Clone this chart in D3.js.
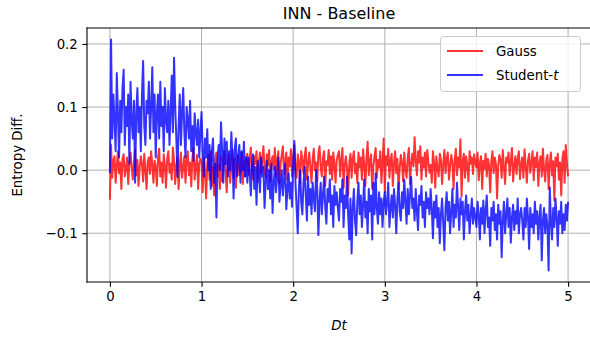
<!DOCTYPE html>
<html>
<head>
<meta charset="utf-8">
<script src="https://cdn.jsdelivr.net/npm/d3@7"></script>
<style>
  body { margin: 0; background: white; }
  svg { display: block; font-family: "DejaVu Sans", sans-serif; }
</style>
</head>
<body>
<div id="container"></div>
<script>
// time axis: 0 .. 5 in steps of 0.0125 (401 samples)
const tStep = 0.0125;

const gauss = [
    -0.047, 0.04, -0.012, 0.015, 0.022, -0.02, 0.008, 0.03, -0.005, 0.012, -0.03, 0.018, 0.025, -0.01, 0.002, 0.02, -0.022, 0.01, 0.028, 0.005,
    -0.015, 0.012, 0.032, -0.008, 0.016, -0.025, 0.004, 0.022, 0.01, -0.018, 0.026, 0.0, -0.03, 0.014, 0.02, -0.006, 0.03, 0.008, -0.02, 0.015,
    0.005, -0.025, 0.02, 0.034, -0.01, 0.012, -0.02, 0.025, 0.006, -0.028, 0.018, 0.03, -0.004, 0.01, -0.015, 0.036, 0.015, -0.022, 0.008, 0.02,
    -0.03, 0.01, 0.028, -0.012, 0.004, 0.022, -0.02, 0.016, 0.03, -0.008, 0.012, -0.026, 0.02, 0.035, -0.015, 0.006, 0.024, -0.03, 0.01, 0.018,
    0.012, -0.035, 0.02, 0.0, -0.045, 0.01, 0.025, -0.015, 0.03, -0.025, 0.005, -0.04, 0.018, 0.028, -0.01, 0.008, -0.03, 0.022, -0.018, 0.012,
    0.03, -0.005, -0.035, 0.015, 0.025, -0.02, 0.006, 0.032, -0.012, 0.018, -0.028, 0.01, 0.024, -0.008, 0.002, 0.028, -0.022, 0.014, -0.01, 0.02,
    0.026, -0.008, 0.015, 0.036, 0.004, -0.015, 0.022, 0.01, 0.03, -0.02, 0.012, 0.028, -0.005, 0.018, 0.038, 0.0, -0.012, 0.025, 0.008, 0.032,
    -0.018, 0.014, 0.022, 0.002, 0.035, -0.01, 0.016, 0.03, -0.022, 0.01, 0.024, 0.038, -0.006, 0.012, 0.028, -0.015, 0.02, 0.006, 0.033, -0.01,
    0.018, 0.04, 0.002, -0.012, 0.025, 0.012, -0.022, 0.03, 0.016, -0.005, 0.022, 0.036, -0.015, 0.01, 0.028, 0.004, -0.02, 0.018, 0.034, 0.0,
    0.012, -0.018, 0.026, 0.038, 0.006, -0.01, 0.02, 0.03, -0.025, 0.014, 0.008, 0.032, -0.006, 0.022, -0.015, 0.028, 0.01, -0.02, 0.016, 0.024,
    0.03, -0.01, 0.015, 0.035, -0.028, 0.008, 0.022, 0.002, -0.04, 0.012, 0.026, -0.012, 0.018, 0.03, -0.005, 0.01, -0.02, 0.028, 0.004, 0.02,
    -0.015, 0.033, 0.01, -0.025, 0.018, 0.045, -0.008, 0.015, 0.025, -0.03, 0.006, 0.022, 0.035, -0.012, 0.016, 0.004, 0.03, -0.02, 0.012, 0.05,
    -0.035, 0.022, 0.008, 0.034, -0.012, 0.016, 0.026, -0.025, 0.01, 0.03, -0.005, 0.018, -0.03, 0.004, 0.024, 0.012, -0.018, 0.028, 0.0, -0.012,
    0.02, 0.035, -0.022, 0.01, 0.026, 0.006, 0.052, 0.015, -0.008, 0.03, 0.012, 0.038, -0.015, 0.02, 0.004, 0.028, -0.01, 0.032, 0.014, -0.004,
    0.008, -0.02, 0.03, 0.012, -0.028, 0.022, 0.002, -0.01, 0.026, 0.015, -0.022, 0.01, 0.032, -0.005, 0.018, 0.028, -0.015, 0.006, 0.024, 0.012,
    -0.03, 0.016, 0.034, -0.008, 0.02, 0.004, 0.049, -0.042, 0.014, 0.026, -0.012, 0.022, 0.008, -0.018, 0.03, 0.01, 0.02, -0.006, 0.025, 0.012,
    0.004, 0.028, -0.016, 0.012, 0.022, -0.03, 0.015, 0.002, 0.026, -0.01, 0.018, 0.008, -0.035, 0.014, 0.03, -0.005, 0.02, 0.01, -0.045, 0.006,
    0.024, 0.016, -0.012, 0.032, 0.004, -0.022, 0.02, 0.012, 0.028, -0.008, 0.015, 0.035, -0.018, 0.008, 0.022, -0.006, 0.018, 0.03, -0.014, 0.01,
    0.02, -0.012, 0.033, 0.006, -0.02, 0.015, 0.026, -0.004, 0.012, 0.03, -0.016, 0.02, 0.005, 0.028, -0.025, 0.012, 0.022, -0.01, 0.034, 0.002,
    -0.018, 0.016, 0.024, -0.03, 0.01, 0.028, -0.008, 0.014, -0.048, 0.02, 0.006, 0.026, -0.015, 0.012, -0.04, 0.018, 0.03, -0.02, 0.04, 0.01, -0.01
];

const studentT = [
    -0.005, 0.207, 0.05, 0.12, 0.08, 0.03, 0.154, 0.09, 0.02, 0.11, 0.06, 0.13, 0.159, 0.04, 0.1, 0.07, 0.12, 0.01, 0.14, 0.08,
    0.05, 0.11, -0.02, 0.09, 0.13, 0.06, 0.1, 0.03, 0.12, 0.173, 0.07, 0.04, 0.11, 0.09, 0.14, 0.05, 0.1, 0.163, 0.06, 0.12,
    0.02, 0.09, 0.12, 0.05, 0.14, 0.07, 0.1, 0.03, 0.13, 0.08, 0.06, 0.11, 0.04, 0.09, 0.15, 0.06, 0.178, 0.1, 0.05, -0.011,
    0.07, 0.12, 0.04, 0.09, 0.13, 0.06, 0.02, 0.1, 0.08, 0.05, 0.11, 0.03, 0.07, 0.015, 0.09, 0.06, 0.04, 0.08, 0.02, 0.06,
    0.092, 0.03, -0.01, 0.05, 0.02, 0.065, 0.0, 0.04, -0.03, 0.03, 0.05, -0.02, 0.01, -0.075, 0.02, 0.04, 0.0, 0.076, 0.03, -0.02,
    0.05, 0.01, 0.045, -0.01, 0.03, 0.0, 0.06, 0.02, -0.045, 0.035, 0.05, -0.01, 0.02, 0.04, -0.02, 0.03, 0.0, 0.045, -0.01, 0.02,
    -0.02, 0.02, 0.0, -0.04, 0.01, 0.025, -0.03, 0.005, -0.055, 0.015, 0.0, -0.035, 0.02, -0.01, 0.005, -0.06, -0.02, 0.015, -0.03, 0.0,
    -0.045, 0.01, -0.068, -0.02, 0.005, -0.035, -0.01, 0.02, -0.05, -0.025, 0.0, -0.04, -0.015, 0.01, -0.062, -0.03, -0.005, -0.045, -0.02, -0.058,
    0.01, 0.046, -0.02, -0.06, -0.1, -0.03, 0.0, -0.05, -0.07, -0.02, 0.005, -0.04, -0.08, -0.01, -0.055, -0.03, -0.07, -0.02, -0.045, -0.065,
    0.0, -0.03, -0.103, -0.05, -0.02, -0.07, -0.04, -0.01, -0.06, -0.085, -0.03, -0.05, -0.015, -0.07, -0.04, -0.09, -0.025, -0.055, -0.035, -0.06,
    -0.08, -0.03, -0.05, -0.015, -0.09, -0.04, -0.06, -0.01, -0.07, -0.11, -0.045, -0.132, -0.06, -0.03, -0.08, -0.103, -0.05, -0.02, -0.07, -0.04,
    -0.09, -0.055, -0.015, -0.075, -0.05, -0.1, -0.03, -0.065, -0.04, -0.11, -0.02, -0.07, -0.005, -0.06, -0.085, -0.035, -0.07, -0.045, -0.09, -0.05,
    -0.035, -0.07, -0.05, -0.02, -0.09, -0.06, -0.04, -0.075, -0.03, -0.055, -0.1, -0.045, -0.02, -0.065, -0.08, -0.035, -0.06, -0.015, -0.05, -0.085,
    -0.03, -0.07, -0.04, -0.011, -0.06, -0.045, -0.08, -0.03, -0.065, -0.095, -0.04, -0.055, -0.025, -0.075, -0.05, -0.09, -0.035, -0.06, -0.045, -0.07,
    -0.03, -0.06, -0.108, -0.05, -0.075, -0.04, -0.09, -0.06, -0.116, -0.07, -0.045, -0.085, -0.127, -0.06, -0.035, -0.08, -0.05, -0.1, -0.065, -0.03,
    -0.09, -0.055, -0.075, -0.02, -0.06, -0.095, -0.045, -0.07, -0.05, -0.11, -0.065, -0.04, -0.08, -0.055, -0.1, -0.07, -0.045, -0.085, -0.06, -0.075,
    -0.09, -0.05, -0.07, -0.11, -0.06, -0.085, -0.048, -0.1, -0.065, -0.04, -0.09, -0.075, -0.12, -0.06, -0.08, -0.05, -0.095, -0.07, -0.11, -0.055,
    -0.085, -0.065, -0.138, -0.08, -0.05, -0.1, -0.07, -0.045, -0.09, -0.06, -0.115, -0.075, -0.055, -0.095, -0.065, -0.085, -0.045, -0.1, -0.07, -0.06,
    -0.08, -0.11, -0.06, -0.09, -0.045, -0.075, -0.125, -0.06, -0.09, -0.07, -0.1, -0.05, -0.085, -0.065, -0.11, -0.075, -0.055, -0.143, -0.08, -0.06,
    -0.1, -0.07, -0.09, -0.159, -0.027, -0.08, -0.11, -0.06, -0.09, -0.045, -0.075, -0.12, -0.065, -0.085, -0.05, -0.1, -0.07, -0.095, -0.055, -0.08, -0.05
];

const series = [
    {label: "Gauss", values: gauss, color: "red"},
    {label: "Student-", italic: "t", values: studentT, color: "blue"}
];

const xTicks = [0, 1, 2, 3, 4, 5];
const yTicks = [-0.1, 0.0, 0.1, 0.2];

const width = 590;
const height = 339;
const margin = {top: 28, right: -1, bottom: 57, left: 87};
const plotW = width - margin.left - margin.right;
const plotH = height - margin.top - margin.bottom;

const svg = d3.create("svg")
    .attr("width", width)
    .attr("height", height);

// matplotlib-like 5% padding around the data
const tMax = (gauss.length - 1) * tStep;
const allVals = gauss.concat(studentT);
const [vMin, vMax] = d3.extent(allVals);
const xPad = tMax * 0.05;
const yPad = (vMax - vMin) * 0.05;

const x = d3.scaleLinear()
    .domain([-xPad, tMax + xPad])
    .range([margin.left, margin.left + plotW]);

const y = d3.scaleLinear()
    .domain([vMin - yPad, vMax + yPad])
    .range([margin.top + plotH, margin.top]);

// grid
svg.append("g")
    .selectAll("line")
    .data(xTicks)
    .enter()
    .append("line")
    .attr("x1", d => x(d)).attr("x2", d => x(d))
    .attr("y1", margin.top).attr("y2", margin.top + plotH)
    .attr("stroke", "#b0b0b0")
    .attr("stroke-width", 1);

svg.append("g")
    .selectAll("line")
    .data(yTicks)
    .enter()
    .append("line")
    .attr("x1", margin.left).attr("x2", margin.left + plotW)
    .attr("y1", d => y(d)).attr("y2", d => y(d))
    .attr("stroke", "#b0b0b0")
    .attr("stroke-width", 1);

// series
const line = d3.line()
    .x((d, i) => x(i * tStep))
    .y(d => y(d));

svg.append("g")
    .selectAll("path")
    .data(series)
    .enter()
    .append("path")
    .attr("d", s => line(s.values))
    .attr("fill", "none")
    .attr("stroke", s => s.color)
    .attr("stroke-opacity", 0.8)
    .attr("stroke-width", 2)
    .attr("stroke-linejoin", "round")
    .attr("stroke-linecap", "butt");

// axes
const xAxis = svg.append("g")
    .attr("transform", `translate(0,${margin.top + plotH})`)
    .call(d3.axisBottom(x).tickValues(xTicks).tickFormat(d3.format("d")).tickSize(4.7).tickPadding(4.5));

const yAxis = svg.append("g")
    .attr("transform", `translate(${margin.left},0)`)
    .call(d3.axisLeft(y).tickValues(yTicks).tickFormat(d3.format(".1f")).tickSize(4.7).tickPadding(4.5));

[xAxis, yAxis].forEach(ax => {
    ax.select(".domain").remove();
    ax.selectAll("line").attr("stroke", "#000").attr("stroke-width", 1.1);
    ax.selectAll("text")
        .attr("fill", "#000")
        .attr("font-size", "13.3px")
        .attr("font-family", "DejaVu Sans, sans-serif");
});

// spines
const spine = (x1, y1, x2, y2) => svg.append("line")
    .attr("x1", x1).attr("y1", y1).attr("x2", x2).attr("y2", y2)
    .attr("stroke", "#000")
    .attr("stroke-width", 1.1)
    .attr("stroke-linecap", "square");

spine(margin.left, margin.top, margin.left, margin.top + plotH);
spine(margin.left, margin.top + plotH, margin.left + plotW, margin.top + plotH);
spine(margin.left, margin.top, margin.left + plotW, margin.top);

// title and labels
svg.append("text")
    .attr("x", margin.left + plotW / 2)
    .attr("y", 19)
    .attr("text-anchor", "middle")
    .attr("font-size", "16px")
    .attr("fill", "#000")
    .text("INN - Baseline");

svg.append("text")
    .attr("x", margin.left + plotW / 2)
    .attr("y", 330)
    .attr("text-anchor", "middle")
    .attr("font-size", "13.3px")
    .attr("font-style", "italic")
    .attr("fill", "#000")
    .text("Dt");

svg.append("text")
    .attr("transform", `translate(22,${margin.top + plotH / 2}) rotate(-90)`)
    .attr("text-anchor", "middle")
    .attr("font-size", "13.3px")
    .attr("fill", "#000")
    .text("Entropy Diff.");

// legend
const legend = svg.append("g")
    .attr("transform", "translate(440,36)");

legend.append("rect")
    .attr("x", 0.5).attr("y", 0.5)
    .attr("width", 140).attr("height", 55)
    .attr("rx", 3)
    .attr("fill", "white")
    .attr("fill-opacity", 0.8)
    .attr("stroke", "#cccccc")
    .attr("stroke-width", 1);

const items = legend.selectAll("g.item")
    .data(series)
    .enter()
    .append("g")
    .attr("class", "item")
    .attr("transform", (_, i) => `translate(0,${15 + i * 24})`);

items.append("line")
    .attr("x1", 7).attr("x2", 43)
    .attr("y1", 0).attr("y2", 0)
    .attr("stroke", s => s.color)
    .attr("stroke-opacity", 0.8)
    .attr("stroke-width", 2);

const labels = items.append("text")
    .attr("x", 56)
    .attr("y", 0)
    .attr("dy", "0.35em")
    .attr("font-size", "13.3px")
    .attr("fill", "#000")
    .text(s => s.label);

labels.filter(s => s.italic)
    .append("tspan")
    .attr("font-style", "italic")
    .text(s => s.italic);

d3.select("#container").append(() => svg.node());
</script>
</body>
</html>
